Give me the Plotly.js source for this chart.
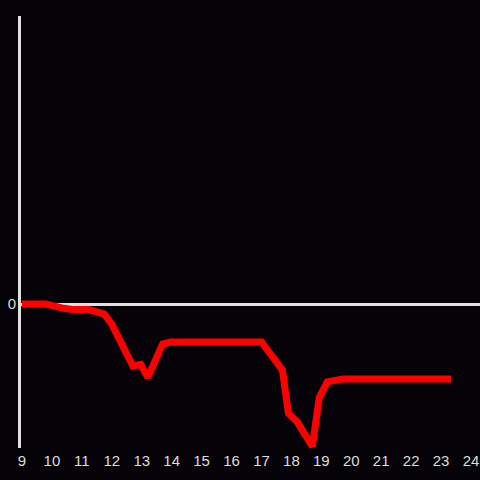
<!DOCTYPE html>
<html>
<head>
<meta charset="utf-8">
<script src="https://cdn.plot.ly/plotly-3.0.1.min.js"></script>
<style>html,body{margin:0;padding:0;background:#050307;}#chart{width:480px;height:480px;}</style>
</head>
<body>
<div id="chart"></div>
<script>
const xValues = [9.0, 9.8, 10.4, 10.67, 11.23, 11.75, 12.0, 12.7, 12.97, 13.2, 13.7, 13.97, 17.0, 17.7, 17.9, 18.2, 18.7, 18.93, 19.2, 19.73, 23.33];
const yValues = [0, 0, -0.3, -0.38, -0.38, -0.7, -1.4, -4.3, -4.2, -5.1, -2.78, -2.64, -2.64, -4.6, -7.6, -8.2, -9.9, -6.5, -5.4, -5.2, -5.2];
const xTicks = [9, 10, 11, 12, 13, 14, 15, 16, 17, 18, 19, 20, 21, 22, 23, 24];
const yTicks = [0];

Plotly.newPlot('chart', [{
  x: xValues, y: yValues, type: 'scatter', mode: 'lines',
  line: {color: '#ff0000', width: 7}, hoverinfo: 'none'
}], {
  width: 480, height: 480,
  margin: {l: 21, r: 0, t: 16, b: 32},
  paper_bgcolor: '#050307', plot_bgcolor: '#050307',
  showlegend: false,
  font: {family: 'Liberation Sans, Arial, sans-serif', size: 15, color: '#dddddd'},
  xaxis: {range: [8.967, 24.3], tickvals: xTicks, ticktext: xTicks.map(String), showgrid: false, zeroline: false, showline: false, ticks: '', ticklabelstandoff: 2, ticklabeloverflow: 'allow', fixedrange: true},
  yaxis: {range: [-10, 20], tickvals: yTicks, ticktext: ['0'], showgrid: false, zeroline: true, zerolinecolor: '#e0e0e0', zerolinewidth: 3, showline: true, linecolor: '#e0e0e0', linewidth: 3, ticks: '', ticklabelstandoff: -1, fixedrange: true}
}, {displayModeBar: false, staticPlot: true});
</script>
</body>
</html>
